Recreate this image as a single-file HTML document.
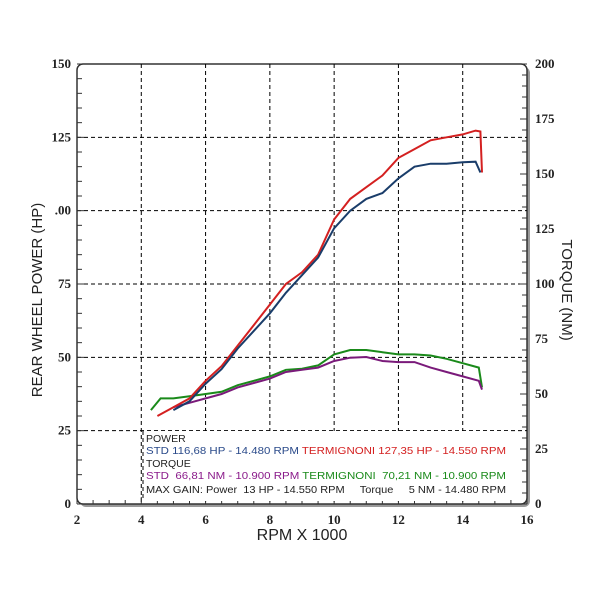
<!DOCTYPE html>
<html><head><meta charset="utf-8"><style>
body{margin:0;background:#fff;width:600px;height:600px;overflow:hidden}
svg text{font-family:"Liberation Serif",serif;font-weight:bold;font-size:13px;fill:#222}
</style></head><body>
<svg id="c" width="600" height="600">
</svg>
<script>
const rpm=[4.5,5,5.5,6,6.5,7,7.5,8,8.5,9,9.5,10,10.5,11,11.5,12,12.5,13,13.5,14,14.4,14.55,14.6];
const hpTerm=[30,33,36,42,47,54,61,68,75,79,85,97,104,108,112,118,121,124,125,126,127.3,127,113];
const rpmStd=[5,5.5,6,6.5,7,7.5,8,8.5,9,9.5,10,10.5,11,11.5,12,12.5,13,13.5,14,14.4,14.55];
const hpStd=[32,35,41,46,53,59,65,72,78,84,94,100,104,106,111,115,116,116,116.5,116.7,113];
const rpmTq=[4.3,4.6,5,5.5,6,6.5,7,7.5,8,8.5,9,9.5,10,10.5,11,11.5,12,12.5,13,13.5,14,14.5,14.6];
const tqTerm=[42.7,48,48,49,50,51,54,56,58,61,61.5,63,68,70,70,69,68,68,67.5,66,64,62,53];
const rpmTqStd=[5,5.5,6,6.5,7,7.5,8,8.5,9,9.5,10,10.5,11,11.5,12,12.5,13,13.5,14,14.5,14.6];
const tqStd=[44,46,48,50,53,55,57,60,61,62,65,66.5,66.8,65,64.5,64.5,62,60,58,56,52];
const xTicks=[2,4,6,8,10,12,14,16];
const hpTicks=[0,25,50,75,100,125,150];
const nmTicks=[0,25,50,75,100,125,150,175,200];

const L=77,R=527,T=64,B=504;
const X=v=>L+(v-2)/14*(R-L);
const Yh=v=>B-v/150*(B-T);
const Yn=v=>B-v/200*(B-T);
const svg=document.getElementById('c');
const NS='http://www.w3.org/2000/svg';
const SANS='font-family:"Liberation Sans",sans-serif;font-weight:normal;white-space:pre;';
function mk(t,a,p){const e=document.createElementNS(NS,t);for(const k in a)e.setAttribute(k,a[k]);(p||svg).appendChild(e);return e;}

let e;
e=mk('rect',{x:L+3,y:T+3,width:R-L,height:B-T,rx:6,fill:'#999'});


e=mk('rect',{x:L,y:T,width:R-L,height:B-T,rx:6,fill:'#fff',stroke:'#333','stroke-width':1.5});


for(const v of xTicks){if(v==2||v==16)continue;
 e=mk('line',{x1:X(v),x2:X(v),y1:T,y2:B,stroke:'#000','stroke-dasharray':'4,3'});
 
 }
for(const v of hpTicks){if(v==0||v==150)continue;
 e=mk('line',{x1:L,x2:R,y1:Yh(v),y2:Yh(v),stroke:'#000','stroke-dasharray':'4,3'});
 
 }
for(let v=0;v<=150;v+=5){mk('line',{x1:L,x2:L+(v%25?5:7),y1:Yh(v),y2:Yh(v),stroke:'#333'});}
for(let v=0;v<=200;v+=5){mk('line',{x1:R,x2:R-(v%25?5:7),y1:Yn(v),y2:Yn(v),stroke:'#333'});}
for(let v=2;v<=16;v+=0.5){mk('line',{x1:X(v),x2:X(v),y1:B,y2:B-(v%2?4:7),stroke:'#333'});}
for(const v of xTicks){e=mk('text',{x:X(v),y:B+20,'text-anchor':'middle'});e.textContent=v;
 
 }
for(const v of hpTicks){e=mk('text',{x:L-6,y:Yh(v)+4,'text-anchor':'end'});e.textContent=v==100?'.00':v;
 
 }
for(const v of nmTicks){e=mk('text',{x:R+8,y:Yn(v)+4});e.textContent=v;
 
 }
e=mk('text',{x:302,y:540,'text-anchor':'middle',style:SANS+'font-size:16px'});e.textContent='RPM X 1000';


e=mk('text',{x:0,y:0,'text-anchor':'middle',style:SANS+'font-size:15px',transform:'translate(42,300) rotate(-90)'});e.textContent='REAR WHEEL POWER (HP)';


e=mk('text',{x:0,y:0,'text-anchor':'middle',style:SANS+'font-size:15px',transform:'translate(562,290) rotate(90)'});e.textContent='TORQUE (NM)';


function line(xs,ys,Y,col,name){const d=xs.map((x,i)=>(i?'L':'M')+X(x).toFixed(1)+','+Y(ys[i]).toFixed(1)).join('');
 const p=mk('path',{d,fill:'none',stroke:col,'stroke-width':2});
 
 }
line(rpmTq,tqTerm,Yn,'#1a8a1a','torque-termignoni');
line(rpmTqStd,tqStd,Yn,'#7a1a7a','torque-std');
line(rpm,hpTerm,Yh,'#d42020','power-termignoni');
line(rpmStd,hpStd,Yh,'#1a3d6a','power-std');
const g=mk('g',{});


mk('rect',{x:144,y:431,width:366,height:70,fill:'#fff'},g);
mk('line',{x1:143,x2:143,y1:431,y2:501,stroke:'#000','stroke-dasharray':'4,3'},g);
const rows=[[442,[['POWER','#222']],0],[454,[['STD 116,68 HP - 14.480 RPM ','#2a4a8a'],['TERMIGNONI 127,35 HP - 14.550 RPM','#d42020']],360],
[467,[['TORQUE','#222']],0],[479,[['STD  66,81 NM - 10.900 RPM ','#8a1a8a'],['TERMIGNONI  70,21 NM - 10.900 RPM','#1a8a1a']],360],
[493,[['MAX GAIN: Power  13 HP - 14.550 RPM     Torque     5 NM - 14.480 RPM','#222']],360]];
for(const [y,parts,w] of rows){const a={x:146,y:y,style:SANS+'font-size:10.5px'};
 if(w){a.textLength=w;a.lengthAdjust='spacingAndGlyphs';}
 const t=mk('text',a,g);
 
 
 for(const [s,c] of parts){const sp=mk('tspan',{fill:c},t);sp.textContent=s;}}
</script>
</body></html>
